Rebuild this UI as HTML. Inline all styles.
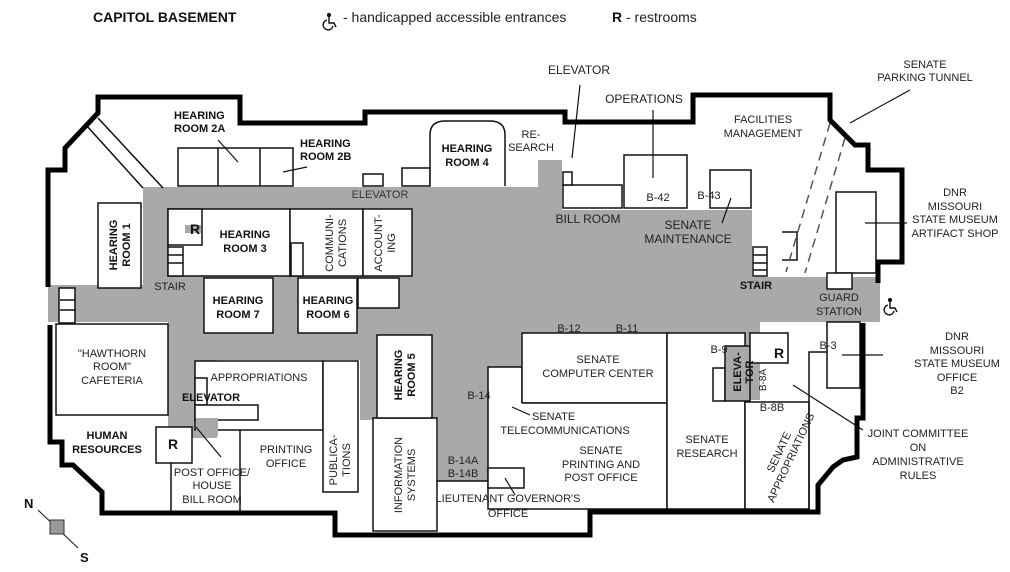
<!DOCTYPE html>
<html><head><meta charset="utf-8"><style>
html,body{margin:0;padding:0;background:#fff}
svg{display:block}
text{font-family:"Liberation Sans",sans-serif;font-size:11px;fill:#222}
.b{font-weight:bold;fill:#111}
.c{text-anchor:middle}
</style></head><body>
<svg width="1010" height="572" viewBox="0 0 1010 572" xmlns="http://www.w3.org/2000/svg">
<defs>
<g id="hc" fill="none" stroke="#111" stroke-width="1.4">
<circle cx="2" cy="-11" r="1.4" fill="#111"/>
<path d="M2,-9 L2,-3 L7,-3 L9,1"/>
<path d="M0,-6 A5,5 0 1 0 6,0"/>
</g>
</defs>
<rect width="1010" height="572" fill="#fff"/>
<!-- header -->
<text x="93" y="22" class="b" style="font-size:14px">CAPITOL BASEMENT</text>
<use href="#hc" x="327" y="26"/>
<text x="343" y="22" style="font-size:14px">- handicapped accessible entrances</text>
<text x="612" y="22" class="b" style="font-size:14px">R</text>
<text x="626" y="22" style="font-size:14px">- restrooms</text>

<!-- gray corridors -->
<path d="M48,285 L143,285 L143,187 L538,187 L538,160 L562,160 L562,210 L752,210 L752,277 L880,277 L880,322 L760,322 L760,400 L730,400 L730,333 L523,333 L523,368 L488,368 L488,481 L438,481 L438,420 L360,420 L360,360 L217,360 L217,438 L168,438 L168,322 L48,322 Z" fill="#a9a9a9"/>

<g fill="#fff" stroke="#111" stroke-width="1.5">
<rect x="178" y="148" width="115" height="38"/>
<line x1="218" y1="148" x2="218" y2="186"/><line x1="260" y1="148" x2="260" y2="186"/>
<rect x="363" y="174" width="20" height="12"/>
<rect x="402" y="168" width="28" height="18"/>
<path d="M430,186 L430,135 Q430,121 445,121 L490,121 Q505,121 505,135 L505,186"/>
<rect x="98" y="203" width="43" height="85"/>
<rect x="168" y="209" width="122" height="67"/>
<rect x="168" y="209" width="34" height="36"/>
<rect x="168" y="247" width="15" height="29"/>
<rect x="290" y="209" width="73" height="67"/>
<rect x="291" y="243" width="12" height="33"/>
<rect x="363" y="209" width="49" height="67"/>
<rect x="358" y="278" width="41" height="30"/>
<rect x="204" y="278" width="69" height="55"/>
<rect x="298" y="278" width="59" height="55"/>
<rect x="59" y="288" width="16" height="35"/>
<rect x="563" y="185" width="59" height="23"/>
<rect x="563" y="172" width="9" height="13"/>
<rect x="624" y="155" width="63" height="53"/>
<rect x="710" y="170" width="41" height="38"/>
<rect x="753" y="247" width="14" height="29"/>
<path d="M782,232 L797,232 L797,260 L782,260" fill="none"/>
<rect x="836" y="192" width="40" height="81"/>
<rect x="827" y="273" width="25" height="16"/>
<rect x="488" y="367" width="34" height="55"/>
<rect x="522" y="333" width="145" height="70"/>
<path d="M488,422 L488,509 L667,509 L667,403 L522,403" fill="#fff"/>
<rect x="488" y="468" width="36" height="20"/>
<rect x="667" y="333" width="78" height="176"/>
<rect x="713" y="368" width="12" height="33"/>
<rect x="725" y="346" width="25" height="55" fill="#a9a9a9"/>
<rect x="750" y="333" width="38" height="30"/>
<rect x="745" y="402" width="64" height="107"/>
<path d="M809,509 L809,352 L860,352" fill="none"/>
<rect x="827" y="322" width="33" height="66"/>
<rect x="56" y="324" width="112" height="91"/>
<rect x="156" y="427" width="36" height="36"/>
<rect x="195" y="361" width="128" height="69"/>
<rect x="323" y="361" width="35" height="131"/>
<rect x="195" y="378" width="12" height="27"/>
<rect x="195" y="405" width="63" height="15"/>
<line x1="240" y1="430" x2="240" y2="513"/>
<line x1="171" y1="463" x2="171" y2="513"/>
<rect x="373" y="418" width="64" height="113"/>
<rect x="377" y="335" width="55" height="83"/>
<line x1="437" y1="481" x2="488" y2="481"/>
</g>
<rect x="185" y="225" width="16" height="8" fill="#a9a9a9"/>
<rect x="196" y="418" width="22" height="18" fill="#a9a9a9"/>
<g stroke="#111" stroke-width="1.5" fill="none">
<line x1="86" y1="125" x2="143" y2="188"/><line x1="98" y1="118" x2="163" y2="188"/>
<line x1="60" y1="300" x2="75" y2="300"/><line x1="60" y1="310" x2="75" y2="310"/>
<line x1="168" y1="255" x2="183" y2="255"/><line x1="168" y1="263" x2="183" y2="263"/>
<line x1="753" y1="255" x2="767" y2="255"/><line x1="753" y1="263" x2="767" y2="263"/><line x1="753" y1="270" x2="767" y2="270"/>
</g>
<g stroke="#555" stroke-width="1.5" stroke-dasharray="9,6" fill="none">
<line x1="830" y1="123" x2="786" y2="272"/><line x1="845" y1="138" x2="805" y2="273"/>
</g>
<g stroke="#111" stroke-width="1.2">
<line x1="218" y1="140" x2="238" y2="162"/><line x1="283" y1="172" x2="307" y2="167"/>
<line x1="580" y1="85" x2="572" y2="158"/><line x1="653" y1="110" x2="653" y2="178"/>
<line x1="910" y1="90" x2="850" y2="123"/><line x1="865" y1="223" x2="907" y2="223"/>
<line x1="731" y1="198" x2="722" y2="223"/><line x1="512" y1="407" x2="530" y2="415"/>
<line x1="505" y1="478" x2="515" y2="495"/><line x1="793" y1="385" x2="863" y2="430"/>
<line x1="842" y1="355" x2="883" y2="355"/><line x1="196" y1="427" x2="221" y2="457"/>
</g>
<g stroke="#000" stroke-width="5" fill="none" stroke-linejoin="miter">
<polyline points="48,287 48,170 65,170 65,148 98,113 98,97 240,97 240,123 365,123 365,112 565,112 565,122 693,122 693,95 830,95 830,120 855,145 868,145 868,170 902,170 902,262 878,262 878,283"/>
<polyline points="863,323 863,418 857,418 857,457 843,460 833,467 818,485 818,512 590,512 590,535 335,535 335,513 102,513 102,492 73,465 62,465 62,442 50,442 50,325"/>
</g>
<text x="174" y="119" class="b">HEARING</text><text x="174" y="132" class="b">ROOM 2A</text>
<text x="300" y="147" class="b">HEARING</text><text x="300" y="160" class="b">ROOM 2B</text>
<text x="467" y="152" class="b c">HEARING</text><text x="467" y="166" class="b c">ROOM 4</text>
<text class="b c" transform="translate(120,245) rotate(-90)"><tspan x="0" y="-3">HEARING</tspan><tspan x="0" y="10">ROOM 1</tspan></text>
<text x="190" y="234" class="b" style="font-size:14px">R</text>
<text x="245" y="238" class="b c">HEARING</text><text x="245" y="252" class="b c">ROOM 3</text>
<text x="238" y="304" class="b c">HEARING</text><text x="238" y="318" class="b c">ROOM 7</text>
<text x="328" y="304" class="b c">HEARING</text><text x="328" y="318" class="b c">ROOM 6</text>
<text x="756" y="289" class="b c">STAIR</text>
<text x="211" y="401" class="b c">ELEVATOR</text>
<text x="107" y="439" class="b c">HUMAN</text><text x="107" y="453" class="b c">RESOURCES</text>
<text x="173" y="449" class="b c" style="font-size:14px">R</text>
<text class="b c" transform="translate(405,375) rotate(-90)"><tspan x="0" y="-3">HEARING</tspan><tspan x="0" y="10">ROOM 5</tspan></text>
<text class="b c" transform="translate(741,372) rotate(-90)"><tspan x="0" y="0">ELEVA-</tspan><tspan x="0" y="12">TOR</tspan></text>
<text x="779" y="358" class="b c" style="font-size:14px">R</text>
<text x="531" y="138" class="c">RE-</text><text x="531" y="151" class="c">SEARCH</text>
<text x="380" y="198" class="c" style="fill:#333">ELEVATOR</text>
<text class="c" transform="translate(336,243) rotate(-90)"><tspan x="0" y="-3">COMMUNI-</tspan><tspan x="0" y="10">CATIONS</tspan></text>
<text class="c" transform="translate(385,243) rotate(-90)"><tspan x="0" y="-3">ACCOUNT-</tspan><tspan x="0" y="10">ING</tspan></text>
<text x="170" y="290" class="c">STAIR</text>
<text x="579" y="74" class="c" style="font-size:12px">ELEVATOR</text>
<text x="644" y="103" class="c" style="font-size:12px">OPERATIONS</text>
<text x="763" y="123" class="c">FACILITIES</text><text x="763" y="137" class="c">MANAGEMENT</text>
<text x="925" y="68" class="c">SENATE</text><text x="925" y="81" class="c">PARKING TUNNEL</text>
<text x="658" y="201" class="c">B-42</text><text x="709" y="199" class="c">B-43</text>
<text x="588" y="223" class="c" style="font-size:12px">BILL ROOM</text>
<text x="688" y="229" class="c" style="font-size:12px">SENATE</text><text x="688" y="243" class="c" style="font-size:12px">MAINTENANCE</text>
<text x="839" y="301" class="c">GUARD</text><text x="839" y="315" class="c">STATION</text>
<use href="#hc" x="888" y="311"/>
<text x="955" y="196" class="c">DNR</text><text x="955" y="210" class="c">MISSOURI</text><text x="955" y="223" class="c">STATE MUSEUM</text><text x="955" y="237" class="c">ARTIFACT SHOP</text>
<text x="569" y="332" class="c">B-12</text><text x="627" y="332" class="c">B-11</text>
<text x="957" y="340" class="c">DNR</text><text x="957" y="354" class="c">MISSOURI</text><text x="957" y="367" class="c">STATE MUSEUM</text><text x="957" y="381" class="c">OFFICE</text><text x="957" y="394" class="c">B2</text>
<text x="112" y="357" class="c">"HAWTHORN</text><text x="112" y="370" class="c">ROOM"</text><text x="112" y="384" class="c">CAFETERIA</text>
<text x="259" y="381" class="c">APPROPRIATIONS</text>
<text x="479" y="399" class="c">B-14</text>
<text x="598" y="363" class="c">SENATE</text><text x="598" y="377" class="c">COMPUTER CENTER</text>
<text x="719" y="353" class="c">B-9</text>
<text class="c" transform="translate(766,380) rotate(-90)" style="font-size:10px">B-8A</text>
<text x="772" y="411" class="c">B-8B</text>
<text x="828" y="349" class="c">B-3</text>
<text x="532" y="420">SENATE</text><text x="565" y="434" class="c">TELECOMMUNICATIONS</text>
<text x="601" y="454" class="c">SENATE</text><text x="601" y="468" class="c">PRINTING AND</text><text x="601" y="481" class="c">POST OFFICE</text>
<text x="707" y="443" class="c">SENATE</text><text x="707" y="457" class="c">RESEARCH</text>
<text class="c" transform="translate(785,455) rotate(-65)"><tspan x="0" y="-3">SENATE</tspan><tspan x="0" y="10">APPROPRIATIONS</tspan></text>
<text x="918" y="437" class="c">JOINT COMMITTEE</text><text x="918" y="451" class="c">ON</text><text x="918" y="465" class="c">ADMINISTRATIVE</text><text x="918" y="479" class="c">RULES</text>
<text x="212" y="476" class="c">POST OFFICE/</text><text x="212" y="489" class="c">HOUSE</text><text x="212" y="503" class="c">BILL ROOM</text>
<text x="286" y="453" class="c">PRINTING</text><text x="286" y="467" class="c">OFFICE</text>
<text class="c" transform="translate(340,460) rotate(-90)"><tspan x="0" y="-3">PUBLICA-</tspan><tspan x="0" y="10">TIONS</tspan></text>
<text class="c" transform="translate(405,475) rotate(-90)"><tspan x="0" y="-3">INFORMATION</tspan><tspan x="0" y="10">SYSTEMS</tspan></text>
<text x="463" y="464" class="c">B-14A</text><text x="463" y="477" class="c">B-14B</text>
<text x="508" y="502" class="c">LIEUTENANT GOVERNOR'S</text><text x="508" y="517" class="c">OFFICE</text>
<line x1="38" y1="510" x2="78" y2="548" stroke="#111" stroke-width="1"/>
<rect x="50" y="520" width="14" height="14" fill="#999" stroke="#333"/>
<text x="24" y="508" class="b" style="font-size:13px">N</text>
<text x="80" y="562" class="b" style="font-size:13px">S</text>
</svg>
</body></html>
